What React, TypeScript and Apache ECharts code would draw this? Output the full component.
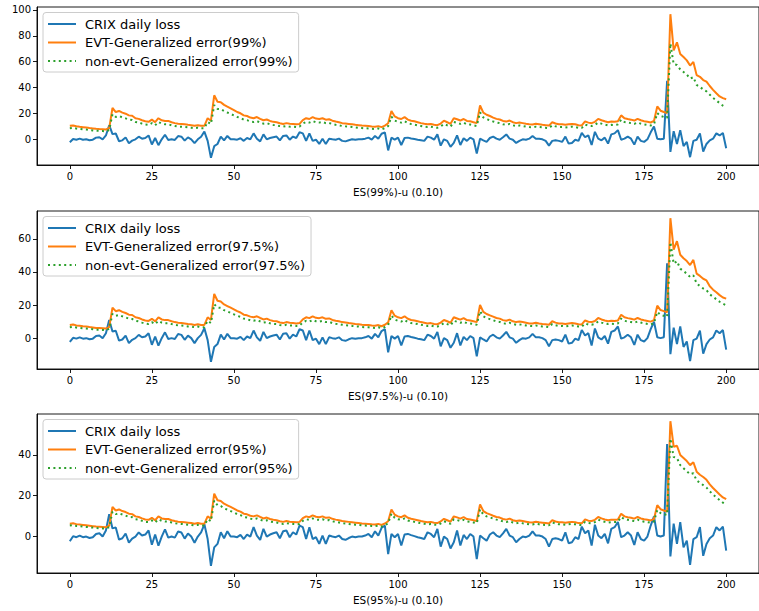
import React, { useEffect, useRef } from "react";
import * as echarts from "echarts";

// Observation index 0..200
const steps: number[] = Array.from({ length: 201 }, (_, i) => i);

// CRIX daily loss (%), shared by the three panels
const crixLoss = [
  -2.3, 0.2, -0.3, 0.5, -0.3, 0, -0.7, -0.3, 1.3, 1.6,
  0, 3, 10.9, 4, 4.5, -1.5, -0.8, 1.5, -3, -1,
  0, 2, 0.5, 1, 3, -4, 1, -4.5, 0, 3.5,
  -0.5, 0, -0.5, 2.5, 2, -1, 1.5, 0, -3, 0,
  2, 6, -1.2, -14.3, -5.3, -3.6, 2.1, -0.8, 2.6, 0,
  0, -0.3, 0.8, -1.2, 1, 0, 4.6, 0.5, -1.6, 3.8,
  0, 1, 1.6, 2.1, -0.8, 2.6, 3, -0.3, 2.1, 1,
  5.4, 4.6, -1.2, 4.6, -1.2, -0.3, -3.6, 0.5, -3.6, 0.5,
  0, -0.3, 0.5, -1.2, -1.6, -0.7, 0, -0.3, 0, 0,
  0.5, 1.3, -0.3, 2.6, 0.5, 4.3, 5.4, -8.6, 1.3, -0.3,
  1.3, -4.4, 1, 1.3, 0.7, 0.2, -0.3, -0.7, -1.2, 2.1,
  1.3, -0.3, 3.8, -4.9, 0, -1.2, -5.8, -2.8, 3, -4.4,
  0.8, -1.2, 1.3, 0, -11, 0.5, -0.8, -2, 1, 2.1,
  0.5, -0.3, 1.6, 3.8, 0.5, -0.3, -2.8, -1.2, 0, -0.3,
  0.5, 2.6, 0.5, 0.5, 0, -1.2, -4.9, -1.2, -0.8, -1.2,
  -2, 2.1, -3.3, -2.8, -0.3, -1.2, 4.9, 1.6, 3, -4.4,
  5.8, 0.5, -0.8, 1.3, -3.3, 3.8, 4.6, 7.1, -0.3, 0.5,
  2.1, 0.5, -4.1, 2.1, -1.2, -2, 0, 5.4, 9.9, 0.5,
  0, 0.5, 45.3, -9.7, 6.3, -3.6, 7.1, -5.3, -2, -13.8,
  -1.2, -0.3, 4.6, -9.4, -3.6, -0.8, 0.5, 4.6, 3, 4.9,
  -6.9,
];

// ES(99%)
const evt99 = [
  10.4, 10.7, 10.1, 9.7, 9.4, 9.1, 8.7, 8.4, 8.1, 7.9,
  7.8, 7.6, 8.7, 24.2, 21.1, 21.9, 20.6, 19.8, 18.5, 18.2,
  16.3, 15.8, 14.7, 13.9, 13.5, 15.2, 13.2, 16.3, 14.7, 14.2,
  14.2, 13.2, 12.5, 12.0, 11.9, 11.6, 11.2, 10.9, 10.4, 10.9,
  10.4, 10.4, 16.3, 14.4, 34.0, 29.0, 28.7, 26.6, 25.2, 23.9,
  22.6, 21.1, 20.1, 18.5, 18.0, 16.8, 16.3, 17.2, 15.8, 14.7,
  15.3, 14.2, 13.5, 13.2, 12.4, 11.9, 12.5, 12.0, 11.9, 11.6,
  11.9, 14.9, 16.3, 15.7, 17.2, 16.0, 15.7, 16.3, 15.2, 15.5,
  14.4, 13.7, 13.2, 12.5, 12.2, 11.9, 11.6, 11.2, 10.9, 10.6,
  10.4, 10.2, 9.9, 9.7, 10.2, 9.4, 10.6, 12.4, 21.9, 17.7,
  16.3, 15.7, 17.2, 15.2, 14.4, 13.9, 13.2, 12.5, 12.0, 11.6,
  11.9, 11.2, 10.9, 12.2, 14.4, 13.2, 12.0, 16.3, 15.5, 14.5,
  15.7, 14.2, 13.9, 13.2, 12.5, 26.1, 20.6, 19.0, 18.0, 16.8,
  15.8, 15.3, 14.2, 13.7, 14.5, 13.2, 12.5, 13.0, 12.5, 12.0,
  11.6, 11.4, 12.0, 11.6, 11.2, 10.9, 10.6, 13.2, 12.2, 11.6,
  11.6, 11.2, 11.6, 11.9, 11.6, 10.9, 10.7, 13.9, 12.9, 12.5,
  13.5, 15.8, 14.7, 13.9, 13.2, 13.7, 13.5, 13.9, 18.5, 16.3,
  15.7, 15.2, 14.5, 15.8, 14.7, 14.0, 13.5, 13.0, 14.2, 25.4,
  22.1, 21.1, 20.3, 96.7, 68.7, 75.0, 66.0, 63.6, 61.0, 57.0,
  59.8, 49.6, 48.3, 45.8, 44.5, 41.2, 38.2, 35.6, 33.1, 31.8,
  31.0,
];
const nonEvt99 = [
  8.5, 8.8, 8.3, 8.0, 7.7, 7.5, 7.1, 6.9, 6.6, 6.5,
  6.4, 6.2, 7.1, 19.4, 17.3, 18.0, 16.9, 16.2, 15.2, 14.9,
  13.4, 13.0, 12.1, 11.4, 11.1, 12.5, 10.8, 13.4, 12.1, 11.6,
  11.6, 10.8, 10.3, 9.8, 9.8, 9.5, 9.2, 8.9, 8.5, 8.9,
  8.5, 8.5, 13.4, 11.8, 26.5, 23.5, 23.3, 21.8, 20.7, 19.6,
  18.5, 17.3, 16.5, 15.2, 14.8, 13.8, 13.4, 14.1, 13.0, 12.1,
  12.5, 11.6, 11.1, 10.8, 10.2, 9.8, 10.3, 9.8, 9.8, 9.5,
  9.8, 12.2, 13.4, 12.9, 14.1, 13.1, 12.9, 13.4, 12.5, 12.7,
  11.8, 11.2, 10.8, 10.3, 10.0, 9.8, 9.5, 9.2, 8.9, 8.7,
  8.5, 8.4, 8.1, 8.0, 8.4, 7.7, 8.7, 10.2, 17.5, 14.5,
  13.4, 12.9, 14.1, 12.5, 11.8, 11.4, 10.8, 10.3, 9.8, 9.5,
  9.8, 9.2, 8.9, 10.0, 11.8, 10.8, 9.8, 13.4, 12.7, 11.9,
  12.9, 11.6, 11.4, 10.8, 10.3, 20.9, 16.9, 15.6, 14.8, 13.8,
  13.0, 12.5, 11.6, 11.2, 11.9, 10.8, 10.3, 10.7, 10.3, 9.8,
  9.5, 9.3, 9.8, 9.5, 9.2, 8.9, 8.7, 10.8, 10.0, 9.5,
  9.5, 9.2, 9.5, 9.8, 9.5, 8.9, 8.8, 11.4, 10.6, 10.3,
  11.1, 13.0, 12.1, 11.4, 10.8, 11.2, 11.1, 11.4, 15.2, 13.4,
  12.9, 12.5, 11.9, 13.0, 12.1, 11.5, 11.1, 10.7, 11.6, 20.3,
  18.1, 17.3, 16.6, 74.0, 58.0, 57.5, 54.0, 52.0, 50.0, 47.0,
  48.0, 42.0, 40.5, 38.5, 37.0, 34.5, 32.0, 30.0, 28.0, 26.0,
  24.7,
];

// ES(97.5%)
const evt975 = [
  8.0, 8.3, 7.7, 7.5, 7.2, 7.0, 6.7, 6.5, 6.2, 6.1,
  6.0, 5.8, 6.7, 18.4, 16.3, 16.9, 15.9, 15.2, 14.2, 14.0,
  12.6, 12.2, 11.3, 10.7, 10.4, 11.7, 10.2, 12.6, 11.3, 10.9,
  10.9, 10.2, 9.7, 9.3, 9.1, 8.9, 8.6, 8.4, 8.0, 8.4,
  8.0, 8.0, 12.6, 11.0, 26.7, 22.6, 22.1, 20.4, 19.4, 18.4,
  17.4, 16.3, 15.5, 14.2, 13.8, 13.0, 12.6, 13.2, 12.2, 11.3,
  11.8, 10.9, 10.4, 10.2, 9.5, 9.1, 9.7, 9.3, 9.1, 8.9,
  9.1, 11.4, 12.6, 12.1, 13.2, 12.3, 12.1, 12.6, 11.7, 11.9,
  11.0, 10.5, 10.2, 9.7, 9.4, 9.1, 8.9, 8.6, 8.4, 8.1,
  8.0, 7.9, 7.6, 7.5, 7.9, 7.2, 8.1, 9.5, 16.9, 13.6,
  12.6, 12.1, 13.2, 11.7, 11.0, 10.7, 10.2, 9.7, 9.3, 8.9,
  9.1, 8.6, 8.4, 9.4, 11.0, 10.2, 9.3, 12.6, 11.9, 11.2,
  12.1, 10.9, 10.7, 10.2, 9.7, 20.1, 15.9, 14.6, 13.8, 13.0,
  12.2, 11.8, 10.9, 10.5, 11.2, 10.2, 9.7, 10.0, 9.7, 9.3,
  8.9, 8.8, 9.3, 8.9, 8.6, 8.4, 8.1, 10.2, 9.4, 8.9,
  8.9, 8.6, 8.9, 9.1, 8.9, 8.4, 8.3, 10.7, 9.9, 9.7,
  10.4, 12.2, 11.3, 10.7, 10.2, 10.5, 10.4, 10.7, 14.2, 12.6,
  12.1, 11.7, 11.2, 12.2, 11.3, 10.8, 10.4, 10.0, 10.9, 19.6,
  17.0, 16.3, 15.6, 72.5, 53.5, 58.6, 50.4, 48.3, 46.6, 44.2,
  47.3, 39.0, 37.6, 35.9, 34.9, 31.4, 29.3, 27.7, 26.0, 24.6,
  23.9,
];
const nonEvt975 = [
  6.6, 6.9, 6.4, 6.2, 6.0, 5.8, 5.6, 5.4, 5.1, 5.1,
  5.0, 4.8, 5.6, 14.7, 13.5, 14.0, 13.2, 12.6, 11.8, 11.6,
  10.5, 10.1, 9.4, 8.9, 8.6, 9.7, 8.5, 10.5, 9.4, 9.0,
  9.0, 8.5, 8.1, 7.7, 7.6, 7.4, 7.1, 7.0, 6.6, 7.0,
  6.6, 6.6, 10.5, 9.1, 20.5, 18.5, 18.3, 16.9, 16.1, 15.3,
  14.4, 13.5, 12.9, 11.8, 11.5, 10.8, 10.5, 11.0, 10.1, 9.4,
  9.8, 9.0, 8.6, 8.5, 7.9, 7.6, 8.1, 7.7, 7.6, 7.4,
  7.6, 9.5, 10.5, 10.0, 11.0, 10.2, 10.0, 10.5, 9.7, 9.9,
  9.1, 8.7, 8.5, 8.1, 7.8, 7.6, 7.4, 7.1, 7.0, 6.7,
  6.6, 6.6, 6.3, 6.2, 6.6, 6.0, 6.7, 7.9, 13.7, 11.3,
  10.5, 10.0, 11.0, 9.7, 9.1, 8.9, 8.5, 8.1, 7.7, 7.4,
  7.6, 7.1, 7.0, 7.8, 9.1, 8.5, 7.7, 10.5, 9.9, 9.3,
  10.0, 9.0, 8.9, 8.5, 8.1, 16.3, 13.2, 12.1, 11.5, 10.8,
  10.1, 9.8, 9.0, 8.7, 9.3, 8.5, 8.1, 8.3, 8.1, 7.7,
  7.4, 7.3, 7.7, 7.4, 7.1, 7.0, 6.7, 8.5, 7.8, 7.4,
  7.4, 7.1, 7.4, 7.6, 7.4, 7.0, 6.9, 8.9, 8.2, 8.1,
  8.6, 10.1, 9.4, 8.9, 8.5, 8.7, 8.6, 8.9, 11.8, 10.5,
  10.0, 9.7, 9.3, 10.1, 9.4, 9.0, 8.6, 8.3, 9.0, 15.9,
  14.1, 13.5, 12.9, 58.0, 45.0, 46.5, 42.0, 40.5, 39.0, 37.0,
  38.0, 33.0, 31.5, 30.0, 29.0, 26.5, 25.0, 23.5, 22.0, 20.8,
  19.8,
];

// ES(95%)
const evt95 = [
  6.3, 6.5, 6.1, 5.9, 5.7, 5.5, 5.3, 5.1, 4.9, 4.8,
  4.7, 4.6, 5.3, 14.5, 12.8, 13.3, 12.5, 12.0, 11.2, 11.0,
  9.9, 9.6, 8.9, 8.4, 8.2, 9.2, 8.0, 9.9, 8.9, 8.6,
  8.6, 8.0, 7.6, 7.3, 7.2, 7.0, 6.8, 6.6, 6.3, 6.6,
  6.3, 6.3, 9.9, 8.7, 21.0, 17.8, 17.4, 16.1, 15.3, 14.5,
  13.7, 12.8, 12.2, 11.2, 10.9, 10.2, 9.9, 10.4, 9.6, 8.9,
  9.3, 8.6, 8.2, 8.0, 7.5, 7.2, 7.6, 7.3, 7.2, 7.0,
  7.2, 9.0, 9.9, 9.5, 10.4, 9.7, 9.5, 9.9, 9.2, 9.4,
  8.7, 8.3, 8.0, 7.6, 7.4, 7.2, 7.0, 6.8, 6.6, 6.4,
  6.3, 6.2, 6.0, 5.9, 6.2, 5.7, 6.4, 7.5, 13.3, 10.7,
  9.9, 9.5, 10.4, 9.2, 8.7, 8.4, 8.0, 7.6, 7.3, 7.0,
  7.2, 6.8, 6.6, 7.4, 8.7, 8.0, 7.3, 9.9, 9.4, 8.8,
  9.5, 8.6, 8.4, 8.0, 7.6, 15.8, 12.5, 11.5, 10.9, 10.2,
  9.6, 9.3, 8.6, 8.3, 8.8, 8.0, 7.6, 7.9, 7.6, 7.3,
  7.0, 6.9, 7.3, 7.0, 6.8, 6.6, 6.4, 8.0, 7.4, 7.0,
  7.0, 6.8, 7.0, 7.2, 7.0, 6.6, 6.5, 8.4, 7.8, 7.6,
  8.2, 9.6, 8.9, 8.4, 8.0, 8.3, 8.2, 8.4, 11.2, 9.9,
  9.5, 9.2, 8.8, 9.6, 8.9, 8.5, 8.2, 7.9, 8.6, 15.4,
  13.4, 12.8, 12.3, 56.5, 44.0, 44.5, 40.0, 38.5, 37.0, 35.0,
  36.4, 31.8, 30.3, 29.2, 27.8, 25.6, 23.8, 22.2, 20.6, 19.2,
  18.3,
];
const nonEvt95 = [
  5.4, 5.6, 5.2, 5.1, 4.9, 4.7, 4.6, 4.4, 4.2, 4.1,
  4.0, 4.0, 4.6, 12.2, 11.0, 11.4, 10.8, 10.3, 9.6, 9.5,
  8.5, 8.3, 7.7, 7.2, 7.1, 7.9, 6.9, 8.5, 7.7, 7.4,
  7.4, 6.9, 6.5, 6.3, 6.2, 6.0, 5.8, 5.7, 5.4, 5.7,
  5.4, 5.4, 8.5, 7.5, 17.6, 15.3, 15.0, 13.8, 13.2, 12.5,
  11.8, 11.0, 10.5, 9.6, 9.4, 8.8, 8.5, 8.9, 8.3, 7.7,
  8.0, 7.4, 7.1, 6.9, 6.5, 6.2, 6.5, 6.3, 6.2, 6.0,
  6.2, 7.7, 8.5, 8.2, 8.9, 8.3, 8.2, 8.5, 7.9, 8.1,
  7.5, 7.1, 6.9, 6.5, 6.4, 6.2, 6.0, 5.8, 5.7, 5.5,
  5.4, 5.3, 5.2, 5.1, 5.3, 4.9, 5.5, 6.5, 11.2, 9.2,
  8.5, 8.2, 8.9, 7.9, 7.5, 7.2, 6.9, 6.5, 6.3, 6.0,
  6.2, 5.8, 5.7, 6.4, 7.5, 6.9, 6.3, 8.5, 8.1, 7.6,
  8.2, 7.4, 7.2, 6.9, 6.5, 13.3, 10.8, 9.9, 9.4, 8.8,
  8.3, 8.0, 7.4, 7.1, 7.6, 6.9, 6.5, 6.8, 6.5, 6.3,
  6.0, 5.9, 6.3, 6.0, 5.8, 5.7, 5.5, 6.9, 6.4, 6.0,
  6.0, 5.8, 6.0, 6.2, 6.0, 5.7, 5.6, 7.2, 6.7, 6.5,
  7.1, 8.3, 7.7, 7.2, 6.9, 7.1, 7.1, 7.2, 9.6, 8.5,
  8.2, 7.9, 7.6, 8.3, 7.7, 7.3, 7.1, 6.8, 7.4, 13.0,
  11.5, 11.0, 10.6, 48.0, 39.0, 38.5, 35.0, 33.5, 32.0, 30.5,
  31.0, 27.5, 26.3, 25.2, 24.0, 22.2, 20.6, 19.2, 17.9, 16.6,
  15.6,
];

const xTicks = [0, 25, 50, 75, 100, 125, 150, 175, 200];
const yTicks99 = [0, 20, 40, 60, 80, 100];
const yTicks975 = [0, 20, 40, 60];
const yTicks95 = [0, 20, 40];

const levels = ["99%", "97.5%", "95%"];

const FONT = '"DejaVu Sans", sans-serif';
const BLUE = "#1f77b4";
const ORANGE = "#ff7f0e";
const GREEN = "#2ca02c";

const panels = [
  { level: levels[0], evt: evt99, nonEvt: nonEvt99, yTicks: yTicks99, top: 7, height: 158 },
  { level: levels[1], evt: evt975, nonEvt: nonEvt975, yTicks: yTicks975, top: 211, height: 158 },
  { level: levels[2], evt: evt95, nonEvt: nonEvt95, yTicks: yTicks95, top: 414, height: 159 },
];

function measure(text: string, font: string): number {
  const c = document.createElement("canvas").getContext("2d");
  if (!c) return text.length * 7;
  c.font = font;
  return c.measureText(text).width;
}

export default function App() {
  const ref = useRef<HTMLDivElement>(null);

  useEffect(() => {
    if (!ref.current) return;
    const chart = echarts.init(ref.current, undefined, { renderer: "svg" });

    const grids: any[] = [];
    const xAxes: any[] = [];
    const yAxes: any[] = [];
    const series: any[] = [];
    const graphics: any[] = [];

    panels.forEach((p, k) => {
      grids.push({
        left: 37,
        top: p.top,
        width: 730,
        height: p.height,
        show: true,
        borderColor: "#000",
        borderWidth: 0.9,
        backgroundColor: "transparent",
      });

      xAxes.push({
        gridIndex: k,
        type: "value",
        min: -10,
        max: 210,
        axisLine: { show: true, onZero: false, lineStyle: { color: "#000", width: 0.9 } },
        splitLine: { show: false },
        axisTick: {
          show: true,
          length: 4,
          inside: false,
          customValues: xTicks,
          lineStyle: { color: "#000", width: 0.9 },
        },
        axisLabel: {
          customValues: xTicks,
          fontSize: 10,
          color: "#000",
          fontFamily: FONT,
          margin: 6,
        },
        name: `ES(${p.level})-u (0.10)`,
        nameLocation: "middle",
        nameGap: 21,
        nameTextStyle: { fontSize: 10.5, color: "#000", fontFamily: FONT },
      });

      const all = [...crixLoss, ...p.evt, ...p.nonEvt];
      const lo = Math.min(...all);
      const hi = Math.max(...all);
      const pad = 0.05 * (hi - lo);

      yAxes.push({
        gridIndex: k,
        type: "value",
        min: lo - pad,
        max: hi + pad,
        axisLine: { show: true, onZero: false, lineStyle: { color: "#000", width: 0.9 } },
        splitLine: { show: false },
        axisTick: {
          show: true,
          length: 4,
          customValues: p.yTicks,
          lineStyle: { color: "#000", width: 0.9 },
        },
        axisLabel: {
          customValues: p.yTicks,
          fontSize: 10,
          color: "#000",
          fontFamily: FONT,
          margin: 6,
        },
      });

      const names = [
        "CRIX daily loss",
        `EVT-Generalized error(${p.level})`,
        `non-evt-Generalized error(${p.level})`,
      ];
      const arrays = [crixLoss, p.evt, p.nonEvt];
      const colors = [BLUE, ORANGE, GREEN];

      arrays.forEach((arr, j) => {
        series.push({
          type: "line",
          name: names[j],
          xAxisIndex: k,
          yAxisIndex: k,
          data: steps.map((i) => [i, arr[i]]),
          showSymbol: false,
          symbol: "none",
          silent: true,
          clip: true,
          emphasis: { disabled: true },
          z: 2 + j,
          lineStyle:
            j === 2
              ? { color: colors[j], width: 2, type: [2, 3.4], cap: "butt" }
              : { color: colors[j], width: 2 },
        });
      });

      // legend box in the upper-left corner of each panel
      const legendFont = `13px ${FONT}`;
      const maxW = Math.max(...names.map((n) => measure(n, legendFont)));
      const boxX = 43;
      const boxY = p.top + 5.5;
      const textX = 85;
      const rows = [p.top + 17, p.top + 35.5, p.top + 54];
      graphics.push({
        type: "rect",
        z: 100,
        silent: true,
        shape: { x: boxX, y: boxY, width: textX + maxW + 6 - boxX, height: 59.5, r: 3 },
        style: { fill: "rgba(255,255,255,0.8)", stroke: "#cccccc", lineWidth: 1 },
      });
      names.forEach((n, j) => {
        graphics.push({
          type: "line",
          z: 101,
          silent: true,
          shape: { x1: 48, y1: rows[j], x2: 76, y2: rows[j] },
          style:
            j === 2
              ? { stroke: colors[j], lineWidth: 2, lineDash: [2, 3.4], lineCap: "butt" }
              : { stroke: colors[j], lineWidth: 2 },
        });
        graphics.push({
          type: "text",
          z: 101,
          silent: true,
          style: {
            x: textX,
            y: rows[j],
            text: n,
            font: legendFont,
            fill: "#000",
            verticalAlign: "middle",
            align: "left",
          },
        });
      });
    });

    chart.setOption({
      animation: false,
      backgroundColor: "#ffffff",
      textStyle: { fontFamily: FONT },
      grid: grids,
      xAxis: xAxes,
      yAxis: yAxes,
      series,
      graphic: graphics,
    });

    return () => chart.dispose();
  }, []);

  return (
    <div
      ref={ref}
      style={{ position: "absolute", left: 0, top: 0, width: 759, height: 611 }}
    />
  );
}
